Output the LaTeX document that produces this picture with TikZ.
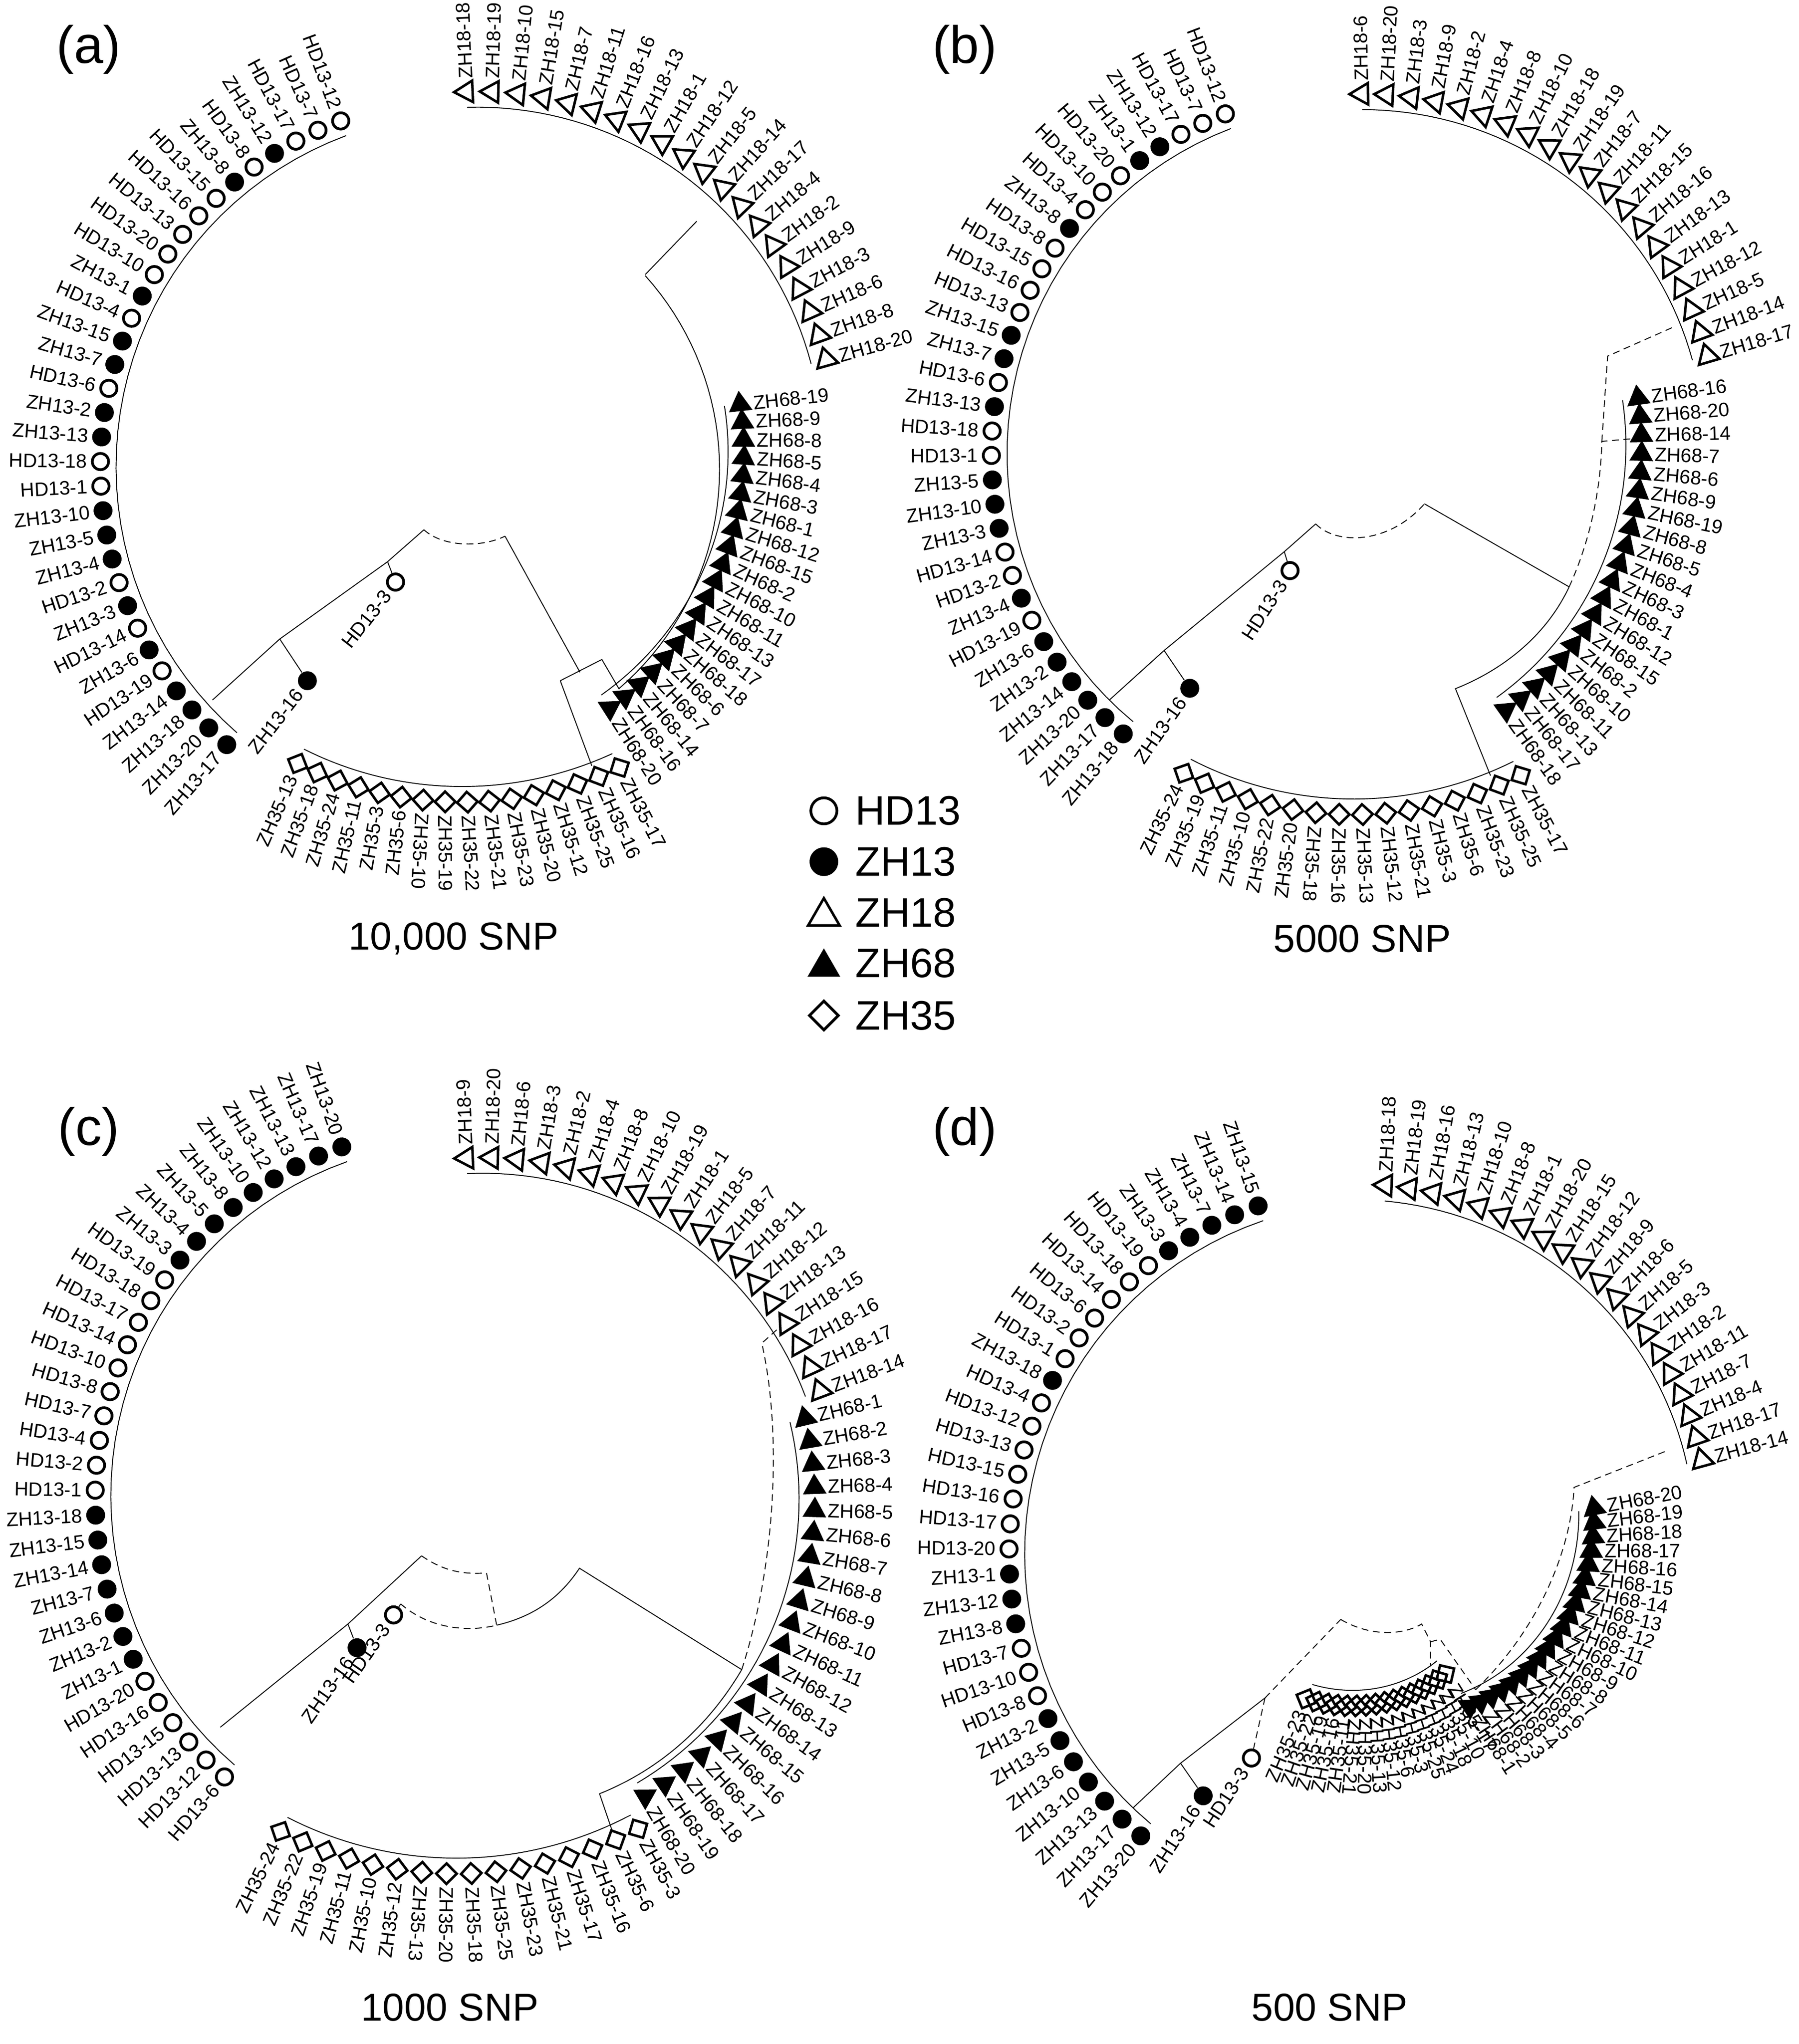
\documentclass[tikz,border=0pt]{standalone}
\usepackage{fontspec}
\setmainfont{Liberation Sans}
\usetikzlibrary{shapes.geometric}
\tikzset{
 lbl/.style={font=\fontsize{8.5}{8.5}\selectfont, inner sep=0pt},
 mo/.style={circle,draw,line width=1.2pt,minimum size=0.25cm,inner sep=0pt},
 mf/.style={circle,fill,minimum size=0.29cm,inner sep=0pt},
 mt/.style={regular polygon,regular polygon sides=3,draw,line width=1.1pt,minimum size=0.38cm,inner sep=0pt},
 mT/.style={regular polygon,regular polygon sides=3,fill,minimum size=0.42cm,inner sep=0pt},
 md/.style={diamond,draw,line width=1.1pt,minimum size=0.33cm,inner sep=0pt},
 br/.style={line width=0.4pt},
 dbr/.style={line width=0.4pt,densely dashed},
 ttl/.style={font=\fontsize{17}{17}\selectfont},
 pnl/.style={font=\fontsize{23}{23}\selectfont},
 leg/.style={font=\fontsize{18}{18}\selectfont,anchor=west},
}
% #1 name #2 cx #3 cy #4 r0 #5 r1 #6 a0 #7 a1 #8 N #9 list
\newcommand\grp[9]{%
 \foreach \lab/\mk [count=\i] in {#9}{%
  \pgfmathsetmacro\gT{(\i-1)/(#8-1)}%
  \pgfmathsetmacro\gA{#6+(#7-#6)*\gT}%
  \pgfmathsetmacro\gB{\gA+180}%
  \pgfmathsetmacro\gR{#4+(#5-#4)*\gT}%
  \pgfmathsetmacro\gL{\gR+10}%
  \pgfmathtruncatemacro\gS{cos(\gA)<-0.1 ? 1 : 0}%
  \node[m\mk, rotate=\gA] (#1m\i) at ({#2+\gR*cos(\gA)},{#3-\gR*sin(\gA)}) {};
  \ifnum\gS=1
   \node[lbl, anchor=east, rotate=\gB] (#1l\i) at ({#2+\gL*cos(\gA)},{#3-\gL*sin(\gA)}) {\lab};
  \else
   \node[lbl, anchor=west, rotate=\gA] (#1l\i) at ({#2+\gL*cos(\gA)},{#3-\gL*sin(\gA)}) {\lab};
  \fi
 }
 \draw[br] plot[domain=0:1,samples=40] ({#2+(#4+(#5-#4)*\x-12)*cos(#6+(#7-#6)*\x)},{#3-(#4+(#5-#4)*\x-12)*sin(#6+(#7-#6)*\x)});
}
% leaf: #1 name #2 x #3 y #4 rot #5 mk #6 text
\newcommand\leaf[6]{%
 \node[m#5] (#1) at (#2,#3) {};
 \node[lbl,anchor=east,rotate=#4] (#1t) at ({#2-10*cos(#4)},{#3+10*sin(#4)}) {#6};
}
\begin{document}
\begin{tikzpicture}[x=0.02cm,y=-0.02cm]
\useasboundingbox (0,0) rectangle (1380,1568);

% ================= (a)
\node[pnl] (pa) at (68,38) {(a)};
\grp{aL}{360}{358}{283}{283}{110.4}{228.9}{32}{HD13-12/o,HD13-7/o,HD13-17/o,ZH13-12/f,HD13-8/o,ZH13-8/f,HD13-15/o,HD13-16/o,HD13-13/o,HD13-20/o,HD13-10/o,ZH13-1/f,HD13-4/o,ZH13-15/f,ZH13-7/f,HD13-6/o,ZH13-2/f,ZH13-13/f,HD13-18/o,HD13-1/o,ZH13-10/f,ZH13-5/f,ZH13-4/f,HD13-2/o,ZH13-3/f,HD13-14/o,ZH13-6/f,HD13-19/o,ZH13-14/f,ZH13-18/f,ZH13-20/f,ZH13-17/f}
\grp{aA}{370}{350}{280}{274}{92.5}{15.7}{20}{ZH18-18/t,ZH18-19/t,ZH18-10/t,ZH18-15/t,ZH18-7/t,ZH18-11/t,ZH18-16/t,ZH18-13/t,ZH18-1/t,ZH18-12/t,ZH18-5/t,ZH18-14/t,ZH18-17/t,ZH18-4/t,ZH18-2/t,ZH18-9/t,ZH18-3/t,ZH18-6/t,ZH18-8/t,ZH18-20/t}
\grp{aB}{335}{335}{234}{247}{6.1}{-57.5}{20}{ZH68-19/T,ZH68-9/T,ZH68-8/T,ZH68-5/T,ZH68-4/T,ZH68-3/T,ZH68-1/T,ZH68-12/T,ZH68-15/T,ZH68-2/T,ZH68-10/T,ZH68-11/T,ZH68-13/T,ZH68-17/T,ZH68-18/T,ZH68-6/T,ZH68-7/T,ZH68-14/T,ZH68-16/T,ZH68-20/T}
\grp{aC}{340}{330}{292}{279}{-62.4}{-113.6}{16}{ZH35-17/d,ZH35-16/d,ZH35-25/d,ZH35-12/d,ZH35-20/d,ZH35-23/d,ZH35-21/d,ZH35-22/d,ZH35-19/d,ZH35-10/d,ZH35-6/d,ZH35-3/d,ZH35-11/d,ZH35-24/d,ZH35-18/d,ZH35-13/d}
\leaf{aZ16}{235.8}{522.2}{52}{f}{ZH13-16}
\leaf{aH3}{303.4}{446.5}{52}{o}{HD13-3}
\coordinate (aLr) at (163,537); \coordinate (aN1) at (214.6,490.2); \coordinate (aN2) at (297.3,430.9);
\coordinate (aA1) at (325.2,406.4); \coordinate (aA2) at (387.4,411.3); \coordinate (aN3) at (444.9,515.7);
\coordinate (aB1) at (429.8,522.2); \coordinate (aB2) at (461.7,505.9); \coordinate (aR35) at (454,587.5);
\coordinate (aR68) at (475,528.7); \coordinate (aR18a) at (495,210.6); \coordinate (aR18) at (534.5,169.7);
\draw[br] (aLr) -- (aN1) -- (aN2) -- (aA1);
\draw[br] (aN1) -- (aZ16); \draw[br] (aN2) -- (aH3);
\draw[dbr] (aA1) .. controls (340,420) and (370,420) .. (aA2);
\draw[br] (aA2) -- (aN3); \draw[br] (aB1) -- (aB2); \draw[br] (aB1) -- (aR35); \draw[br] (aB2) -- (aR68);
\draw[br] plot[domain=-49.3:42,samples=40] ({330+222*cos(\x)},{360-222*sin(\x)});
\draw[br] (aR18a) -- (aR18);
\node[ttl] (ta) at (348,720) {10,000 SNP};

% ================= (b)
\node[pnl] (pb) at (740,38) {(b)};
\grp{bL}{1039.5}{348}{279}{279}{110.9}{230.4}{32}{HD13-12/o,HD13-7/o,HD13-17/o,ZH13-12/f,ZH13-1/f,HD13-20/o,HD13-10/o,HD13-4/o,ZH13-8/f,HD13-8/o,HD13-15/o,HD13-16/o,HD13-13/o,ZH13-15/f,ZH13-7/f,HD13-6/o,ZH13-13/f,HD13-18/o,HD13-1/o,ZH13-5/f,ZH13-10/f,ZH13-3/f,HD13-14/o,HD13-2/o,ZH13-4/f,HD13-19/o,ZH13-6/f,ZH13-2/f,ZH13-14/f,ZH13-20/f,ZH13-17/f,ZH13-18/f}
\grp{bA}{1050}{350}{278}{271}{91.1}{16.5}{20}{ZH18-6/t,ZH18-20/t,ZH18-3/t,ZH18-9/t,ZH18-2/t,ZH18-4/t,ZH18-8/t,ZH18-10/t,ZH18-18/t,ZH18-19/t,ZH18-7/t,ZH18-11/t,ZH18-15/t,ZH18-16/t,ZH18-13/t,ZH18-1/t,ZH18-12/t,ZH18-5/t,ZH18-14/t,ZH18-17/t}
\grp{bB}{1010}{340}{249}{251}{8}{-54.7}{20}{ZH68-16/T,ZH68-20/T,ZH68-14/T,ZH68-7/T,ZH68-6/T,ZH68-9/T,ZH68-19/T,ZH68-8/T,ZH68-5/T,ZH68-4/T,ZH68-3/T,ZH68-1/T,ZH68-12/T,ZH68-15/T,ZH68-2/T,ZH68-10/T,ZH68-11/T,ZH68-13/T,ZH68-17/T,ZH68-18/T}
\grp{bC}{1030}{340}{289}{281}{-61.8}{-115.7}{16}{ZH35-17/d,ZH35-25/d,ZH35-23/d,ZH35-6/d,ZH35-3/d,ZH35-21/d,ZH35-12/d,ZH35-13/d,ZH35-16/d,ZH35-18/d,ZH35-20/d,ZH35-22/d,ZH35-10/d,ZH35-11/d,ZH35-19/d,ZH35-24/d}
\leaf{bZ16}{912.7}{528}{55}{f}{ZH13-16}
\leaf{bH3}{989.6}{437.7}{57}{o}{HD13-3}
\coordinate (bLr) at (851,537); \coordinate (bN1) at (893,499); \coordinate (bN2) at (985.2,423.2);
\coordinate (bA1) at (1009.3,401.9); \coordinate (bA2) at (1092.7,386.5); \coordinate (bN3) at (1203.7,450.2);
\coordinate (bB1) at (1116.5,528.3); \coordinate (bR35) at (1143.4,595); \coordinate (bB2) at (1228.8,338.6);
\coordinate (bB3) at (1258,336); \coordinate (bB4) at (1233.2,273.2); \coordinate (bR18) at (1285.7,250);
\draw[br] (bLr) -- (bN1) -- (bN2) -- (bA1);
\draw[br] (bN1) -- (bZ16); \draw[br] (bN2) -- (bH3);
\draw[dbr] (bA1) .. controls (1025,418) and (1065,418) .. (bA2);
\draw[br] (bA2) -- (bN3);
\draw[br] (bN3) .. controls (1185,490) and (1150,515) .. (bB1) -- (bR35);
\draw[dbr] (bN3) .. controls (1222,410) and (1228,370) .. (bB2) -- (bB3);
\draw[dbr] (bB2) -- (bB4) -- (bR18);
\node[ttl] (tb) at (1045,720) {5000 SNP};

% ================= legend
\node[mo,minimum size=0.40cm,line width=1.2pt] (lg1) at (632,622) {};
\node[mf,minimum size=0.44cm] (lg2) at (632,661) {};
\node[mt,minimum size=0.56cm,line width=1.1pt] (lg3) at (632,703) {};
\node[mT,minimum size=0.58cm] (lg4) at (632,742) {};
\node[md,minimum size=0.46cm,line width=1.2pt] (lg5) at (632,779) {};
\node[leg] (lt1) at (650,622) {HD13};
\node[leg] (lt2) at (650,661) {ZH13};
\node[leg] (lt3) at (650,700) {ZH18};
\node[leg] (lt4) at (650,739) {ZH68};
\node[leg] (lt5) at (650,779) {ZH35};

% ================= (c)
\node[pnl] (pc) at (68,868) {(c)};
\grp{cL}{357}{1147.5}{284}{284}{109.5}{229.4}{32}{ZH13-20/f,ZH13-17/f,ZH13-13/f,ZH13-12/f,ZH13-10/f,ZH13-8/f,ZH13-5/f,ZH13-4/f,ZH13-3/f,HD13-19/o,HD13-18/o,HD13-17/o,HD13-14/o,HD13-10/o,HD13-8/o,HD13-7/o,HD13-4/o,HD13-2/o,HD13-1/o,ZH13-18/f,ZH13-15/f,ZH13-14/f,ZH13-7/f,ZH13-6/f,ZH13-2/f,ZH13-1/f,HD13-20/o,HD13-16/o,HD13-15/o,HD13-13/o,HD13-12/o,HD13-6/o}
\grp{cA}{370}{1165}{277}{277}{92.5}{20.7}{19}{ZH18-9/t,ZH18-20/t,ZH18-6/t,ZH18-3/t,ZH18-2/t,ZH18-4/t,ZH18-8/t,ZH18-10/t,ZH18-19/t,ZH18-1/t,ZH18-5/t,ZH18-7/t,ZH18-11/t,ZH18-12/t,ZH18-13/t,ZH18-15/t,ZH18-16/t,ZH18-17/t,ZH18-14/t}
\grp{cB}{360}{1150}{265}{265}{13.5}{-59.4}{20}{ZH68-1/T,ZH68-2/T,ZH68-3/T,ZH68-4/T,ZH68-5/T,ZH68-6/T,ZH68-7/T,ZH68-8/T,ZH68-9/T,ZH68-10/T,ZH68-11/T,ZH68-12/T,ZH68-13/T,ZH68-14/T,ZH68-15/T,ZH68-16/T,ZH68-17/T,ZH68-18/T,ZH68-19/T,ZH68-20/T}
\grp{cC}{345}{1140}{300}{295}{-61.2}{-116.1}{16}{ZH35-3/d,ZH35-6/d,ZH35-16/d,ZH35-17/d,ZH35-21/d,ZH35-23/d,ZH35-25/d,ZH35-18/d,ZH35-20/d,ZH35-13/d,ZH35-12/d,ZH35-10/d,ZH35-11/d,ZH35-19/d,ZH35-22/d,ZH35-24/d}
\leaf{cZ16}{273.9}{1264}{55}{f}{ZH13-16}
\leaf{cH3}{301.9}{1238.8}{55}{o}{HD13-3}
\coordinate (cLr) at (169,1325); \coordinate (cN1) at (266.9,1245.8); \coordinate (cN2) at (323.4,1193.5);
\coordinate (cA1) at (373.2,1206.6); \coordinate (cA2) at (381,1246.7); \coordinate (cA3) at (307.4,1230.4);
\coordinate (cA4) at (444.5,1203); \coordinate (cN3) at (569,1280.8); \coordinate (cB1) at (584.4,1030.4);
\coordinate (cR18) at (598.4,1017.8); \coordinate (cB2) at (459.9,1376); \coordinate (cR35) at (469.8,1405);
\draw[br] (cLr) -- (cN1) -- (cN2);
\draw[br] (cN1) -- (cZ16);
\draw[dbr] (cN2) .. controls (340,1205) and (355,1208) .. (cA1) -- (cA2);
\draw[dbr] (cA3) .. controls (330,1250) and (360,1252) .. (cA2);
\draw[br] (cH3) -- (cA3);
\draw[br] (cA2) .. controls (410,1240) and (430,1225) .. (cA4) -- (cN3);
\draw[dbr] (cN3) .. controls (595,1200) and (600,1100) .. (cB1) -- (cR18);
\draw[br] (cN3) .. controls (540,1330) and (500,1360) .. (cB2) -- (cR35);
\node[ttl] (tc) at (345,1540) {1000 SNP};

% ================= (d)
\node[pnl] (pd) at (740,868) {(d)};
\grp{dL}{1056}{1192}{282}{282}{108.8}{230.1}{32}{ZH13-15/f,ZH13-14/f,ZH13-7/f,ZH13-4/f,ZH13-3/f,HD13-19/o,HD13-18/o,HD13-14/o,HD13-6/o,HD13-2/o,HD13-1/o,ZH13-18/f,HD13-4/o,HD13-12/o,HD13-13/o,HD13-15/o,HD13-16/o,HD13-17/o,HD13-20/o,ZH13-1/f,ZH13-12/f,ZH13-8/f,HD13-7/o,HD13-10/o,HD13-8/o,ZH13-2/f,ZH13-5/f,ZH13-6/f,ZH13-10/f,ZH13-13/f,ZH13-17/f,ZH13-20/f}
\grp{dA}{1050}{1190}{281}{265}{87.4}{15.3}{20}{ZH18-18/t,ZH18-19/t,ZH18-16/t,ZH18-13/t,ZH18-10/t,ZH18-8/t,ZH18-1/t,ZH18-20/t,ZH18-15/t,ZH18-12/t,ZH18-9/t,ZH18-6/t,ZH18-5/t,ZH18-3/t,ZH18-2/t,ZH18-11/t,ZH18-7/t,ZH18-4/t,ZH18-17/t,ZH18-14/t}
\grp{dB}{1050}{1190}{176}{142}{10.8}{-57}{20}{ZH68-20/T,ZH68-19/T,ZH68-18/T,ZH68-17/T,ZH68-16/T,ZH68-15/T,ZH68-14/T,ZH68-13/T,ZH68-12/T,ZH68-11/T,ZH68-10/T,ZH68-9/T,ZH68-8/T,ZH68-7/T,ZH68-6/T,ZH68-5/T,ZH68-4/T,ZH68-3/T,ZH68-2/T,ZH68-1/T}
\grp{dC}{1050}{1190}{111}{123}{-58}{-113}{16}{ZH35-17/d,ZH35-10/d,ZH35-18/d,ZH35-24/d,ZH35-25/d,ZH35-3/d,ZH35-6/d,ZH35-12/d,ZH35-13/d,ZH35-20/d,ZH35-21/d,ZH35-11/d,ZH35-16/d,ZH35-19/d,ZH35-22/d,ZH35-23/d}
\leaf{dZ16}{923}{1377.6}{57}{f}{ZH13-16}
\leaf{dH3}{960}{1348.6}{57}{o}{HD13-3}
\coordinate (dLr) at (869,1387); \coordinate (dN1) at (905.6,1352.6); \coordinate (dN2) at (970.4,1302.5);
\coordinate (dA1) at (1028.5,1242.3); \coordinate (dA2) at (1090.6,1245.8); \coordinate (dA3) at (1097.4,1259.5);
\coordinate (dA4) at (1097.4,1278.4); \coordinate (dB1) at (1104.7,1257.4); \coordinate (dB2) at (1132,1296.2);
\coordinate (dB3) at (1207.5,1141); \coordinate (dR18) at (1279.5,1112.6);
\draw[br] (dLr) -- (dN1) -- (dN2);
\draw[br] (dN1) -- (dZ16); \draw[dbr] (dN2) -- (dH3);
\draw[dbr] (dN2) -- (dA1);
\draw[dbr] (dA1) .. controls (1050,1255) and (1075,1255) .. (dA2) -- (dA3) -- (dA4);
\draw[dbr] (dA3) -- (dB1) -- (dB2);
\draw[dbr] (dB2) .. controls (1180,1250) and (1205,1190) .. (dB3) -- (dR18);
\node[ttl] (td) at (1020,1540) {500 SNP};
\end{tikzpicture}
\end{document}
